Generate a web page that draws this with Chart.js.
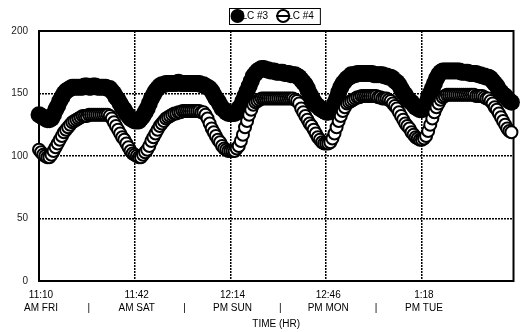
<!DOCTYPE html>
<html>
<head>
<meta charset="utf-8">
<script src="https://cdn.jsdelivr.net/npm/chart.js@4/dist/chart.umd.min.js"></script>
<style>
html, body { margin: 0; padding: 0; background: #fff; }
</style>
</head>
<body>
<canvas id="graph" width="522" height="332"></canvas>
<script>
// one reading every 32 min, starting 11:10 AM FRI (46 readings between grid lines)
var seriesNames = ['LC #3', 'LC #4'];
var lc3 = [133,132,131,130,129,129,130,133,137,140,144,147,150,152,153,154,155,155,155,155,
           155,155,156,156,155,155,156,156,155,155,155,155,155,154,154,152,150,147,145,142,
           139,137,134,132,130,129,128,128,128,130,132,135,138,142,146,149,152,154,156,157,
           157,158,158,158,158,158,158,159,158,158,158,158,158,158,158,158,158,158,157,157,
           156,155,154,152,149,146,144,141,138,137,135,134,134,134,134,135,138,140,144,148,
           152,156,160,164,166,168,169,170,170,169,169,168,168,168,167,167,167,167,166,166,
           166,165,165,165,164,163,161,159,157,154,150,147,144,141,140,138,137,136,135,135,
           136,138,142,146,151,155,158,160,162,163,165,165,165,166,166,166,166,166,166,166,
           166,165,165,165,165,165,164,164,163,163,162,160,159,157,154,151,149,146,144,143,
           141,139,138,137,137,138,141,146,150,154,158,162,165,167,168,168,168,168,168,168,
           168,168,168,167,167,167,167,166,166,166,166,165,165,164,164,163,163,162,160,158,
           156,153,151,149,148,146,144,143];
var lc4 = [105,103,101,100,99,99,101,104,107,110,113,116,119,121,123,125,127,128,129,130,
           131,132,132,132,133,133,133,133,133,133,133,133,133,133,132,130,127,124,121,118,
           115,113,110,107,104,102,101,100,99,99,101,103,105,108,112,115,118,121,124,126,
           128,130,131,132,133,134,134,135,135,136,136,136,136,136,136,136,136,136,135,135,
           133,130,126,122,119,116,113,111,108,106,105,104,104,104,104,106,108,112,117,123,
           128,133,137,141,143,144,145,146,146,146,146,146,146,146,146,146,146,146,146,146,
           146,146,146,145,144,142,138,135,132,129,126,124,121,118,115,113,111,110,110,110,
           111,114,118,123,128,132,136,139,142,143,144,145,146,147,147,148,148,148,148,148,
           148,148,148,147,147,146,146,146,145,144,142,140,138,135,132,129,126,124,122,119,
           117,115,114,113,113,114,116,120,125,130,135,139,142,145,147,148,149,149,149,149,
           149,149,149,149,149,149,149,149,149,149,148,148,148,148,147,146,146,144,142,139,
           137,134,131,128,125,122,120,119];
var tickSamples = [0, 46, 92, 138, 184];
var tickTimes = ['11:10', '11:42', '12:14', '12:46', '1:18'];
var tickDays = ['AM FRI', 'AM SAT', 'PM SUN', 'PM MON', 'PM TUE'];
var lastSample = 228;
var xTitle = 'TIME (HR)';

var police = "'Liberation Sans', Arial, sans-serif";

function points(values){
	return values.map(function(v, i){ return {x: i, y: v}; });
}

// main ticks + the "|" separators half way between them
var xTicks = [];
for (var i = 0; i < tickSamples.length; i++) {
	xTicks.push({value: tickSamples[i], label: [tickTimes[i], tickDays[i]]});
	if (i < tickSamples.length - 1) {
		xTicks.push({value: (tickSamples[i] + tickSamples[i + 1]) / 2, label: ['', '|']});
	}
}
function isMain(v){
	return tickSamples.indexOf(v) >= 0;
}

var cadre = {
	id: 'cadre',
	beforeDatasetsDraw: function(chart){
		var a = chart.chartArea, ctx = chart.ctx;
		ctx.save();
		ctx.strokeStyle = '#000';
		ctx.lineWidth = 2;
		ctx.strokeRect(a.left, a.top, a.right - a.left, a.bottom - a.top);
		ctx.restore();
	}
};

var legende = {
	id: 'legende',
	afterDraw: function(chart){
		var ctx = chart.ctx, a = chart.chartArea;
		ctx.save();
		ctx.font = '10px ' + police;
		var w1 = ctx.measureText(seriesNames[0]).width;
		var w2 = ctx.measureText(seriesNames[1]).width;
		var total = 8.5 + 4 + w1 + 15 + 4 + w2 + 6;
		var left = Math.round((a.left + a.right) / 2 - 2 - total / 2);
		var top = 8, h = 16, cy = top + h / 2;
		ctx.fillStyle = '#fff';
		ctx.fillRect(left, top, total, h);
		ctx.strokeStyle = '#000';
		ctx.lineWidth = 1;
		ctx.strokeRect(left + 0.5, top + 0.5, total, h);
		ctx.textBaseline = 'middle';
		ctx.fillStyle = '#000';
		var m1 = left + 8.5;
		var t1 = m1 + 4;
		var m2 = t1 + w1 + 15;
		var t2 = m2 + 4;
		ctx.fillText(seriesNames[0], t1, cy + 0.5);
		ctx.fillText(seriesNames[1], t2, cy + 0.5);
		// markers, drawn over the first letter like the original
		ctx.beginPath();
		ctx.arc(m1, cy, 7, 0, Math.PI * 2);
		ctx.fill();
		ctx.beginPath();
		ctx.arc(m2, cy, 6, 0, Math.PI * 2);
		ctx.fillStyle = '#fff';
		ctx.fill();
		ctx.lineWidth = 2;
		ctx.stroke();
		ctx.beginPath();
		ctx.moveTo(m2 - 7, cy);
		ctx.lineTo(m2 + 7, cy);
		ctx.stroke();
		ctx.restore();
	}
};

var ctx = document.getElementById('graph').getContext('2d');
var myChart = new Chart(ctx, {
	type: 'line',
	data: {
		datasets: [{
			label: seriesNames[0],
			data: points(lc3),
			showLine: false,
			pointRadius: 8.5,
			pointBackgroundColor: '#000',
			pointBorderColor: '#000',
			pointBorderWidth: 0,
			order: 1,
			clip: false
		}, {
			label: seriesNames[1],
			data: points(lc4),
			showLine: false,
			pointRadius: 6,
			pointBackgroundColor: '#fff',
			pointBorderColor: '#000',
			pointBorderWidth: 2,
			order: 0,
			clip: false
		}]
	},
	options: {
		responsive: false,
		animation: false,
		devicePixelRatio: 1,
		layout: {padding: {top: 31, right: 1, left: 0, bottom: 0}},
		plugins: {legend: {display: false}, tooltip: {enabled: false}},
		scales: {
			x: {
				type: 'linear',
				min: 0,
				max: lastSample,
				afterBuildTicks: function(scale){
					scale.ticks = xTicks.map(function(t){ return {value: t.value}; });
				},
				afterFit: function(scale){ scale.height = 51; },
				ticks: {
					autoSkip: false,
					maxRotation: 0,
					padding: 7,
					labelOffset: 2,
					color: '#000',
					font: {family: police, size: 10, lineHeight: 1.35},
					callback: function(value, index){ return xTicks[index].label; }
				},
				grid: {
					drawTicks: false,
					lineWidth: 1.5,
					color: function(c){ return c.tick && isMain(c.tick.value) ? '#000' : 'rgba(0,0,0,0)'; }
				},
				border: {display: false, dash: [2, 1]},
				title: {
					display: true,
					text: xTitle,
					color: '#000',
					font: {family: police, size: 10, lineHeight: 1.2},
					padding: {top: 0, bottom: 2}
				}
			},
			y: {
				min: 0,
				max: 200,
				afterFit: function(scale){ scale.width = 39; },
				ticks: {
					stepSize: 50,
					padding: 11,
					color: '#222',
					font: {family: police, size: 10}
				},
				grid: {drawTicks: false, lineWidth: 1.5, color: '#000'},
				border: {display: false, dash: [2, 1]}
			}
		}
	},
	plugins: [cadre, legende]
});
</script>
</body>
</html>
